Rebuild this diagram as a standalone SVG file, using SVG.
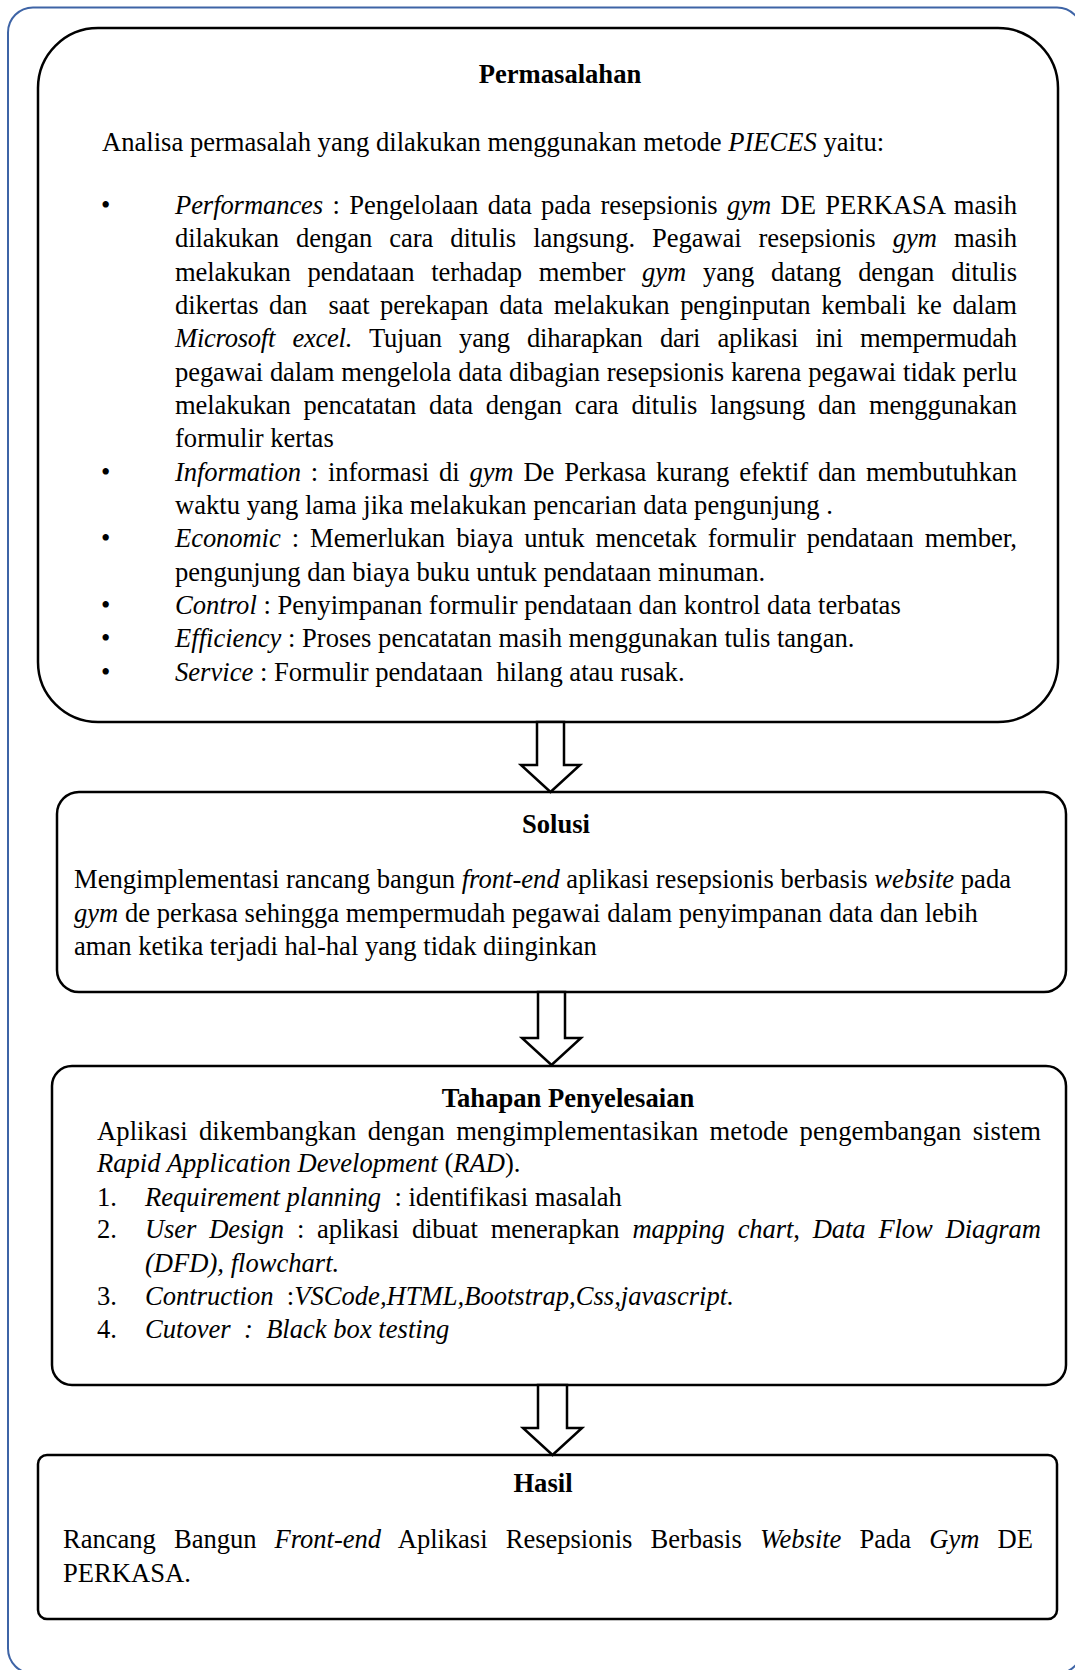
<svg xmlns="http://www.w3.org/2000/svg" width="1075" height="1670" viewBox="0 0 1075 1670">
<style>
text{font-family:"Liberation Serif","Times New Roman",serif;font-size:26.6px;fill:#000}
.b{font-weight:bold}
.i{font-style:italic}
.box{fill:#fff;stroke:#000;stroke-width:2.5}
.arr{fill:#fff;stroke:#000;stroke-width:2.5;stroke-linejoin:miter}
.tt{text-anchor:middle;font-weight:bold}
</style>
<rect x="0" y="0" width="1075" height="1670" fill="#fff"/>
<rect id="frame" x="8" y="7.5" width="1074" height="1666" rx="25" fill="none" stroke="#3E64A6" stroke-width="2"/>

<g id="permasalahan">
<rect class="box" x="38" y="28" width="1020" height="694" rx="60"/>
<text class="tt" x="560" y="83">Permasalahan</text>
<text x="102" y="151">Analisa permasalah yang dilakukan menggunakan metode <tspan class="i">PIECES</tspan> yaitu:</text>
<text x="101" y="214">•</text>
<text x="175" y="214" word-spacing="2.9" textLength="842" lengthAdjust="spacing"><tspan class="i">Performances</tspan> : Pengelolaan data pada resepsionis <tspan class="i">gym</tspan> DE PERKASA masih</text>
<text x="175" y="247" word-spacing="10.6" textLength="842" lengthAdjust="spacing">dilakukan dengan cara ditulis langsung. Pegawai resepsionis <tspan class="i">gym</tspan> masih</text>
<text x="175" y="281" word-spacing="10.3" textLength="842" lengthAdjust="spacing">melakukan pendataan terhadap member <tspan class="i">gym</tspan> yang datang dengan ditulis</text>
<text x="175" y="314" word-spacing="4.1" textLength="842" lengthAdjust="spacing">dikertas dan&#160; saat perekapan data melakukan penginputan kembali ke dalam</text>
<text x="175" y="347" word-spacing="10.9" textLength="842" lengthAdjust="spacing"><tspan class="i">Microsoft excel.</tspan> Tujuan yang diharapkan dari aplikasi ini mempermudah</text>
<text x="175" y="381" word-spacing="0.4" textLength="842" lengthAdjust="spacing">pegawai dalam mengelola data dibagian resepsionis karena pegawai tidak perlu</text>
<text x="175" y="414" word-spacing="6.3" textLength="842" lengthAdjust="spacing">melakukan pencatatan data dengan cara ditulis langsung dan menggunakan</text>
<text x="175" y="447">formulir kertas</text>
<text x="101" y="481">•</text>
<text x="175" y="481" word-spacing="3.4" textLength="842" lengthAdjust="spacing"><tspan class="i">Information</tspan> : informasi di <tspan class="i">gym</tspan> De Perkasa kurang efektif dan membutuhkan</text>
<text x="175" y="514">waktu yang lama jika melakukan pencarian data pengunjung .</text>
<text x="101" y="547">•</text>
<text x="175" y="547" word-spacing="4.5" textLength="842" lengthAdjust="spacing"><tspan class="i">Economic</tspan> : Memerlukan biaya untuk mencetak formulir pendataan member,</text>
<text x="175" y="581">pengunjung dan biaya buku untuk pendataan minuman.</text>
<text x="101" y="614">•</text>
<text x="175" y="614"><tspan class="i">Control</tspan> : Penyimpanan formulir pendataan dan kontrol data terbatas</text>
<text x="101" y="647">•</text>
<text x="175" y="647"><tspan class="i">Efficiency</tspan> : Proses pencatatan masih menggunakan tulis tangan.</text>
<text x="101" y="681">•</text>
<text x="175" y="681"><tspan class="i">Service</tspan> : Formulir pendataan&#160; hilang atau rusak.</text>
</g>

<g id="solusi">
<rect class="box" x="57" y="792" width="1009" height="200" rx="22"/>
<text class="tt" x="556" y="833">Solusi</text>
<text x="74" y="888">Mengimplementasi rancang bangun <tspan class="i">front-end</tspan> aplikasi resepsionis berbasis <tspan class="i">website</tspan> pada</text>
<text x="74" y="922"><tspan class="i">gym</tspan> de perkasa sehingga mempermudah pegawai dalam penyimpanan data dan lebih</text>
<text x="74" y="955">aman ketika terjadi hal-hal yang tidak diinginkan</text>
</g>

<g id="tahapan">
<rect class="box" x="52" y="1066" width="1014" height="319" rx="20"/>
<text class="tt" x="568" y="1107">Tahapan Penyelesaian</text>
<text x="97" y="1140" word-spacing="4.6" textLength="944" lengthAdjust="spacing">Aplikasi dikembangkan dengan mengimplementasikan metode pengembangan sistem</text>
<text x="97" y="1172"><tspan class="i">Rapid Application Development</tspan> (<tspan class="i">RAD</tspan>).</text>
<text x="97" y="1206">1.</text>
<text x="145" y="1206"><tspan class="i">Requirement planning</tspan>&#160; : identifikasi masalah</text>
<text x="97" y="1238">2.</text>
<text x="145" y="1238" word-spacing="6.4" textLength="896" lengthAdjust="spacing"><tspan class="i">User Design</tspan> : aplikasi dibuat menerapkan <tspan class="i">mapping chart</tspan>, <tspan class="i">Data Flow Diagram</tspan></text>
<text x="145" y="1272" class="i">(DFD), flowchart.</text>
<text x="97" y="1305">3.</text>
<text x="145" y="1305"><tspan class="i">Contruction</tspan>&#160; :<tspan class="i">VSCode,HTML,Bootstrap,Css,javascript.</tspan></text>
<text x="97" y="1338">4.</text>
<text x="145" y="1338" class="i">Cutover&#160; :&#160; Black box testing</text>
</g>

<g id="hasil">
<rect class="box" x="38" y="1455" width="1019" height="164" rx="9"/>
<text class="tt" x="543" y="1492">Hasil</text>
<text x="63" y="1548" word-spacing="11.6" textLength="970" lengthAdjust="spacing">Rancang Bangun <tspan class="i">Front-end</tspan> Aplikasi Resepsionis Berbasis <tspan class="i">Website</tspan> Pada <tspan class="i">Gym</tspan> DE</text>
<text x="63" y="1582">PERKASA.</text>
</g>

<g id="connectors">
<polygon class="arr" points="537,722 564,722 564,765 580,765 550.5,792 521,765 537,765"/>
<polygon class="arr" points="538,992 565,992 565,1038 581,1038 551.5,1065 522,1038 538,1038"/>
<polygon class="arr" points="538,1385 567,1385 567,1428 582,1428 552.5,1455 523,1428 538,1428"/>
</g>
</svg>
